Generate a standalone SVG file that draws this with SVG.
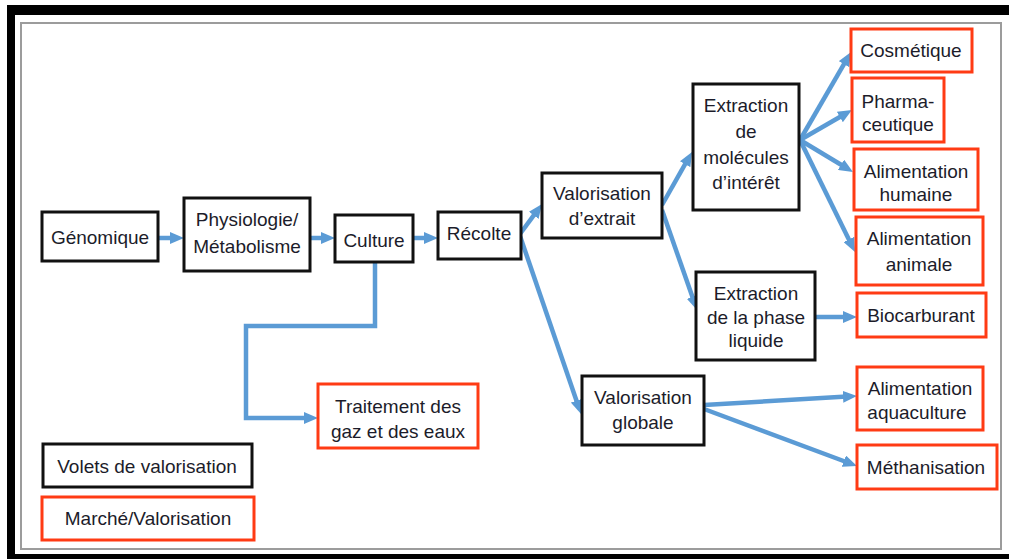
<svg xmlns="http://www.w3.org/2000/svg" width="1009" height="559" viewBox="0 0 1009 559">
<style>
.n{fill:#fff;stroke:#111;stroke-width:3}
.m{fill:#fff;stroke:#ff3b14;stroke-width:3}
text{font-family:"Liberation Sans",Arial,sans-serif;font-size:19px;fill:#1c1c2a;text-anchor:middle}
.c{fill:none;stroke:#5b9bd5;stroke-width:4.5;marker-end:url(#ah)}
</style>
<defs>
<marker id="ah" markerUnits="userSpaceOnUse" markerWidth="14" markerHeight="12" refX="4" refY="6" orient="auto">
<path d="M0,0 L14,6 L0,12 z" fill="#5b9bd5"/>
</marker>
</defs>
<rect width="1009" height="559" fill="#fff"/>
<g id="frame">
<rect x="7" y="5" width="1002" height="10" fill="#000"/>
<rect x="7" y="5" width="8" height="554" fill="#000"/>
<rect x="7" y="554" width="1002" height="5" fill="#000"/>
<rect x="21" y="23" width="980" height="526" fill="none" stroke="#9c9c9c" stroke-width="2"/>
</g>
<g id="connectors">
<path class="c" d="M158,238 H174"/>
<path class="c" d="M310,238 H325"/>
<path class="c" d="M413,238 H428"/>
<path class="c" d="M375,262 V326 H246 V418 H308"/>
<path class="c" d="M520,234 L536.1,212.1"/>
<path class="c" d="M520,236 L577.8,404.5"/>
<path class="c" d="M662,205 L687.1,160.7"/>
<path class="c" d="M662,210 L693.7,300.6"/>
<path class="c" d="M800,140 L846,60.7"/>
<path class="c" d="M800,140 L843.3,115"/>
<path class="c" d="M800,140 L844.4,166.8"/>
<path class="c" d="M800,140 L850.6,243"/>
<path class="c" d="M815,317 H847"/>
<path class="c" d="M704,405 L847,396.6"/>
<path class="c" d="M704,409 L847.6,462.5"/>
</g>
<g id="genomique"><rect class="n" x="42" y="212" width="116" height="49"/><text x="100" y="244">Génomique</text></g>
<g id="physiologie"><rect class="n" x="184" y="198" width="126" height="73"/><text x="247" y="226">Physiologie/</text><text x="247" y="253">Métabolisme</text></g>
<g id="culture"><rect class="n" x="335" y="215" width="78" height="47"/><text x="374" y="247">Culture</text></g>
<g id="recolte"><rect class="n" x="438" y="212" width="83" height="47"/><text x="479" y="240">Récolte</text></g>
<g id="valorisation-extrait"><rect class="n" x="542" y="173" width="120" height="65"/><text x="602" y="200">Valorisation</text><text x="602" y="225">d’extrait</text></g>
<g id="extraction-molecules"><rect class="n" x="693" y="84" width="106" height="126"/><text x="746" y="112">Extraction</text><text x="746" y="138">de</text><text x="746" y="164">molécules</text><text x="746" y="189">d’intérêt</text></g>
<g id="cosmetique"><rect class="m" x="851" y="29" width="121" height="43"/><text x="911" y="57">Cosmétique</text></g>
<g id="pharmaceutique"><rect class="m" x="852" y="78" width="92" height="64"/><text x="898" y="108">Pharma-</text><text x="898" y="131">ceutique</text></g>
<g id="alimentation-humaine"><rect class="m" x="854" y="149" width="124" height="61"/><text x="916" y="178">Alimentation</text><text x="916" y="201">humaine</text></g>
<g id="alimentation-animale"><rect class="m" x="856" y="217" width="127" height="68"/><text x="919" y="245">Alimentation</text><text x="919" y="271">animale</text></g>
<g id="extraction-phase"><rect class="n" x="696" y="272" width="119" height="88"/><text x="756" y="300">Extraction</text><text x="756" y="324">de la phase</text><text x="756" y="347">liquide</text></g>
<g id="biocarburant"><rect class="m" x="857" y="293" width="129" height="44"/><text x="921" y="322">Biocarburant</text></g>
<g id="valorisation-globale"><rect class="n" x="582" y="376" width="122" height="69"/><text x="643" y="404">Valorisation</text><text x="643" y="429">globale</text></g>
<g id="alimentation-aquaculture"><rect class="m" x="857" y="367" width="126" height="63"/><text x="920" y="395">Alimentation</text><text x="917" y="419">aquaculture</text></g>
<g id="methanisation"><rect class="m" x="857" y="445" width="140" height="44"/><text x="926" y="474">Méthanisation</text></g>
<g id="traitement"><rect class="m" x="318" y="384" width="160" height="64"/><text x="398" y="413">Traitement des</text><text x="398" y="438">gaz et des eaux</text></g>
<g id="legend-volets"><rect class="n" x="43" y="444" width="209" height="43"/><text x="147" y="473">Volets de valorisation</text></g>
<g id="legend-marche"><rect class="m" x="42" y="497" width="212" height="43"/><text x="148" y="525">Marché/Valorisation</text></g>
</svg>
